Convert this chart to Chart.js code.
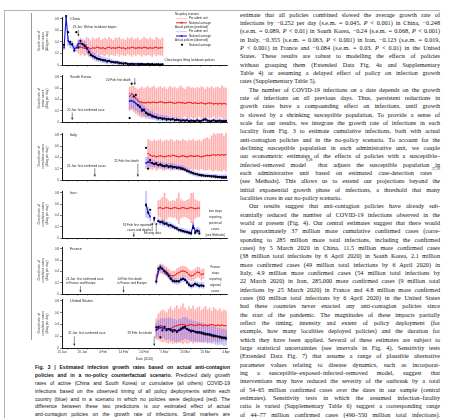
<!DOCTYPE html>
<html><head><meta charset="utf-8">
<script src="https://cdn.jsdelivr.net/npm/chart.js@4.4.1/dist/chart.umd.min.js"></script>
<style>
html,body{margin:0;padding:0;background:#fff;width:453px;height:418px;overflow:hidden;}
#page{position:relative;width:453px;height:418px;overflow:hidden;}
.rule{position:absolute;background:#b4b4b4;}
canvas.panel{position:absolute;}
.body{position:absolute;left:240px;top:10.8px;width:200px;font-family:"Liberation Serif",serif;font-size:6.2px;color:#111;}
.body div{height:8.33px;line-height:8.33px;white-space:nowrap;text-align:justify;text-align-last:justify;}
.body div.end{text-align-last:left;}
.body div.ind{text-indent:9px;}
.body sup,.cap sup{font-size:3.6px;vertical-align:top;line-height:0;position:relative;top:-0.5px;}
.cap{position:absolute;left:35px;top:364px;width:195px;font-family:"Liberation Sans",sans-serif;font-size:5.05px;color:#111;}
.cap div{height:7.9px;line-height:7.9px;white-space:nowrap;text-align:justify;text-align-last:justify;}
</style></head>
<body><div id="page">
<div class="rule" style="left:4px;top:10px;width:436px;height:1px;"></div>
<div class="rule" style="left:4px;top:10px;width:1px;height:408px;"></div>
<div class="rule" style="left:31px;top:13px;width:1px;height:327px;background:#9a9a9a;"></div>

<div class="body">
<div>estimate that all policies combined slowed the average growth rate of</div>
<div>infections by −0.252 per day (s.e.m. = 0.045, <i>P</i> &lt; 0.001) in China, −0.248</div>
<div>(s.e.m. = 0.089, <i>P</i> &lt; 0.01) in South Korea, −0.24 (s.e.m. = 0.068, <i>P</i> &lt; 0.001)</div>
<div>in Italy, −0.355 (s.e.m. = 0.063, <i>P</i> &lt; 0.001) in Iran, −0.123 (s.e.m. = 0.019,</div>
<div><i>P</i> &lt; 0.001) in France and −0.084 (s.e.m. = 0.03, <i>P</i> &lt; 0.01) in the United</div>
<div>States. These results are robust to modelling the effects of policies</div>
<div>without grouping them (Extended Data Fig. 4a and Supplementary</div>
<div>Table 4) or assuming a delayed effect of policy on infection growth</div>
<div class="end">rates (Supplementary Table 5).</div>
<div class="ind">The number of COVID-19 infections on a date depends on the growth</div>
<div>rate of infections on all previous days. Thus, persistent reductions in</div>
<div>growth rates have a compounding effect on infections, until growth</div>
<div>is slowed by a shrinking susceptible population. To provide a sense of</div>
<div>scale for our results, we integrate the growth rate of infections in each</div>
<div>locality from Fig. 3 to estimate cumulative infections, both with actual</div>
<div>anti-contagion policies and in the no-policy scenario. To account for the</div>
<div>declining susceptible population in each administrative unit, we couple</div>
<div>our econometric estimates of the effects of policies with a susceptible–</div>
<div>infected–removed model<sup>8,28</sup> that adjusts the susceptible population in</div>
<div>each administrative unit based on estimated case-detection rates<sup>27,29</sup></div>
<div>(see Methods). This allows us to extend our projections beyond the</div>
<div>initial exponential growth phase of infections, a threshold that many</div>
<div class="end">localities cross in our no-policy scenario.</div>
<div class="ind">Our results suggest that anti-contagion policies have already sub-</div>
<div>stantially reduced the number of COVID-19 infections observed in the</div>
<div>world at present (Fig. 4). Our central estimates suggest that there would</div>
<div>be approximately 37 million more cumulative confirmed cases (corre-</div>
<div>sponding to 285 million more total infections, including the confirmed</div>
<div>cases) by 5 March 2020 in China, 11.5 million more confirmed cases</div>
<div>(38 million total infections by 6 April 2020) in South Korea, 2.1 million</div>
<div>more confirmed cases (49 million total infections by 6 April 2020) in</div>
<div>Italy, 4.9 million more confirmed cases (54 million total infections by</div>
<div>22 March 2020) in Iran, 285,000 more confirmed cases (9 million total</div>
<div>infections by 25 March 2020) in France and 4.8 million more confirmed</div>
<div>cases (60 million total infections by 6 April 2020) in the United States</div>
<div>had these countries never enacted any anti-contagion policies since</div>
<div>the start of the pandemic. The magnitudes of these impacts partially</div>
<div>reflect the timing, intensity and extent of policy deployment (for</div>
<div>example, how many localities deployed policies) and the duration for</div>
<div>which they have been applied. Several of these estimates are subject to</div>
<div>large statistical uncertainties (see intervals in Fig. 4). Sensitivity tests</div>
<div>(Extended Data Fig. 7) that assume a range of plausible alternative</div>
<div>parameter values relating to disease dynamics, such as incorporat-</div>
<div>ing a susceptible–exposed–infected–removed model, suggest that</div>
<div>interventions may have reduced the severity of the outbreak by a total</div>
<div>of 54–65 million confirmed cases over the dates in our sample (central</div>
<div>estimates). Sensitivity tests in which the assumed infection–fatality</div>
<div>ratio is varied (Supplementary Table 6) suggest a corresponding range</div>
<div>of 44–77 million confirmed cases (490–550 million total infections).</div>
</div>

<div class="cap">
<div><b>Fig. 3 | Estimated infection growth rates based on actual anti-contagion</b></div>
<div><b>policies and in a no-policy counterfactual scenario.</b> Predicted daily growth</div>
<div>rates of active (China and South Korea) or cumulative (all others) COVID-19</div>
<div>infections based on the observed timing of all policy deployments within each</div>
<div>country (blue) and in a scenario in which no policies were deployed (red). The</div>
<div>difference between these two predictions is our estimated effect of actual</div>
<div>anti-contagion policies on the growth rate of infections. Small markers are</div>
</div>
</div>

<script>
// ---------------- DATA ----------------
const xTickDays = [15, 25, 35, 45, 55, 65, 75, 85, 95];
const xTickLabels = ['15 Jan', '25 Jan', '4 Feb', '14 Feb', '24 Feb', '5 Mar', '15 Mar', '25 Mar', '4 Apr'];
const xMinorTickDays = [20, 30, 40, 50, 60, 70, 80, 90];
const yTickValues = [0, 0.2, 0.4, 0.6, 0.8];
const yTickLabels = ['0', '0.2', '0.4', '0.6', '0.8'];
const countries = ['China', 'South Korea', 'Italy', 'Iran', 'France', 'United States'];
const yTitleActive = ['Growth rate of', 'active cases', '(\u0394log per day)'];
const yTitleCumulative = ['Growth rate of', 'cumulative cases', '(\u0394log per day)'];

// China: days 16..64
const chinaStart = 16;
const chinaActual = [0.30,0.83,0.42,0.36,0.35,0.28,0.30,0.37,0.38,0.36, 0.35,0.30,0.24,0.19,0.16,0.14,0.12,0.11,0.10,0.09, 0.08,0.07,0.07,0.06,0.05,0.05,0.04,0.04,0.03,0.03, 0.03,0.02,0.02,0.02,0.02,0.02,0.01,0.02,0.01,0.01, 0.01,0.01,0.01,0.02,0.01,0.01,0.01,0.01,0.01];
const chinaActualSpread = [0.03,0.05,0.08,0.06,0.06,0.06,0.06,0.05,0.05,0.05, 0.06,0.06,0.06,0.06,0.06,0.06,0.06,0.05,0.05,0.05, 0.05,0.05,0.04,0.04,0.04,0.03,0.03,0.03,0.03,0.03, 0.02,0.02,0.02,0.02,0.02,0.02,0.02,0.02,0.02,0.02, 0.02,0.02,0.02,0.02,0.02,0.02,0.02,0.02,0.02];
const chinaObserved = [0.35,0.85,0.57,0.40,0.36,0.25,0.57,0.30,0.42,0.36, 0.33,0.29,0.22,0.17,0.15,0.13,0.11,0.10,0.09,0.08, 0.08,0.06,0.07,0.05,0.05,0.04,0.05,0.03,0.03,0.02, 0.03,0.02,0.01,0.02,0.01,-0.08,0.02,0.01,0.02,0.01, 0.01,0.02,0.01,0.01,0.00,0.01,0.01,0.00,0.01];
const chinaNoPolicy = [null,null,null,null,null,null,null,0.33,0.31,0.30, 0.29,0.31,0.30,0.28,0.30,0.29,0.31,0.30,0.29,0.30, 0.28,0.30,0.31,0.29,0.30,0.29,0.30,0.31,0.29,0.30, 0.28,0.30,0.29,0.31,0.30,0.29,0.30,0.30,0.29,0.31, 0.30,0.29,0.30,0.29,0.30,0.31,0.29,0.30,0.30];
const chinaNoPolicyHigh = [null,null,null,null,null,null,null,0.44,0.47,0.45, 0.43,0.48,0.46,0.42,0.47,0.44,0.46,0.48,0.43,0.45, 0.47,0.44,0.48,0.45,0.43,0.47,0.46,0.48,0.44,0.45, 0.43,0.47,0.45,0.48,0.44,0.46,0.47,0.43,0.45,0.48, 0.46,0.44,0.47,0.45,0.43,0.48,0.46,0.44,0.47];
const chinaNoPolicyLow = [null,null,null,null,null,null,null,0.20,0.17,0.19, 0.16,0.18,0.15,0.19,0.17,0.16,0.20,0.15,0.18,0.17, 0.16,0.19,0.15,0.18,0.17,0.16,0.19,0.15,0.18,0.17, 0.16,0.19,0.17,0.15,0.18,0.16,0.19,0.17,0.15,0.18, 0.16,0.18,0.17,0.15,0.19,0.16,0.18,0.17,0.16];

// South Korea: days 48..95
const skStart = 48;
const skActual = [0.37,0.38,0.36,0.33,0.30,0.26,0.23,0.20,0.17,0.15, 0.13,0.12,0.10,0.09,0.08,0.07,0.07,0.06,0.06,0.05, 0.05,0.05,0.04,0.04,0.04,0.03,0.03,0.03,0.03,0.02, 0.03,0.02,0.02,0.03,0.02,0.02,0.03,0.04,0.03,0.02, 0.02,0.03,0.02,0.02,0.03,0.02,0.02,0.02];
const skActualSpread = [0.14,0.14,0.13,0.13,0.12,0.11,0.10,0.09,0.08,0.08, 0.07,0.07,0.06,0.06,0.06,0.05,0.05,0.05,0.05,0.04, 0.04,0.04,0.04,0.04,0.04,0.03,0.03,0.03,0.03,0.03, 0.03,0.03,0.03,0.03,0.03,0.03,0.03,0.04,0.03,0.03, 0.03,0.03,0.03,0.03,0.03,0.03,0.03,0.03];
const skObserved = [0.07,0.68,0.45,0.48,0.30,0.27,0.20,0.22,0.16,0.13, 0.13,0.10,0.09,0.08,0.06,0.07,0.05,0.06,0.04,0.05, 0.04,0.05,0.03,0.04,0.03,0.02,0.03,0.02,0.03,0.01, 0.02,0.02,0.01,0.03,0.01,0.02,0.04,0.05,0.02,0.01, 0.02,0.03,0.01,0.02,0.02,0.01,0.01,0.02];
const skNoPolicy = [0.45,0.50,0.47,0.42,0.38,0.36,0.35,0.34,0.34,0.35, 0.34,0.35,0.35,0.34,0.35,0.36,0.35,0.34,0.34,0.35, 0.35,0.34,0.33,0.34,0.35,0.34,0.34,0.33,0.34,0.35, 0.34,0.33,0.34,0.33,0.33,0.34,0.33,0.32,0.33,0.34, 0.33,0.32,0.33,0.32,0.33,0.32,0.33,0.32];
const skNoPolicyHigh = [0.62,0.64,0.63,0.60,0.58,0.60,0.62,0.59,0.61,0.63, 0.60,0.62,0.64,0.59,0.61,0.63,0.60,0.62,0.58,0.61, 0.63,0.60,0.62,0.59,0.61,0.64,0.60,0.58,0.62,0.63, 0.60,0.61,0.59,0.62,0.60,0.63,0.61,0.58,0.62,0.60, 0.63,0.59,0.61,0.62,0.60,0.64,0.61,0.60];
const skNoPolicyLow = [0.20,0.22,0.18,0.15,0.12,0.10,0.08,0.09,0.07,0.10, 0.08,0.06,0.09,0.07,0.10,0.08,0.06,0.09,0.07,0.08, 0.10,0.06,0.08,0.07,0.09,0.06,0.08,0.10,0.07,0.06, 0.09,0.07,0.08,0.06,0.10,0.07,0.08,0.06,0.09,0.07, 0.08,0.10,0.06,0.07,0.09,0.08,0.06,0.07];

// Italy: days 56..95
const italyStart = 56;
const italyActual = [0.30,0.32,0.31,0.30,0.29,0.28,0.27,0.28,0.26,0.25, 0.25,0.24,0.25,0.24,0.23,0.23,0.22,0.22,0.21,0.19, 0.17,0.15,0.14,0.12,0.11,0.10,0.09,0.09,0.08,0.08, 0.08,0.07,0.07,0.07,0.07,0.06,0.06,0.06,0.06,0.06];
const italyActualSpread = [0.10,0.08,0.07,0.06,0.06,0.05,0.05,0.05,0.05,0.05, 0.05,0.05,0.05,0.05,0.05,0.04,0.04,0.04,0.04,0.04, 0.04,0.04,0.04,0.04,0.04,0.04,0.04,0.03,0.03,0.03, 0.03,0.03,0.03,0.03,0.03,0.03,0.03,0.03,0.03,0.03];
const italyObserved = [0.57,0.20,0.35,0.30,0.28,0.30,0.26,0.27,0.25,0.24, 0.26,0.23,0.24,0.22,0.23,0.21,0.22,0.20,0.19,0.18, 0.16,0.15,0.13,0.12,0.11,0.10,0.09,0.08,0.08,0.07, 0.07,0.07,0.06,0.06,0.05,0.05,0.05,0.04,0.04,0.04];
const italyNoPolicy = [null,0.47,0.44,0.42,0.43,0.41,0.42,0.43,0.42,0.41, 0.42,0.43,0.42,0.44,0.43,0.42,0.41,0.42,0.43,0.42, 0.41,0.42,0.43,0.42,0.42,0.43,0.42,0.41,0.42,0.43, 0.44,0.43,0.44,0.45,0.44,0.45,0.44,0.45,0.44,0.45];
const italyNoPolicyHigh = [null,0.72,0.70,0.68,0.71,0.69,0.70,0.72,0.68,0.70, 0.71,0.69,0.72,0.70,0.68,0.71,0.70,0.69,0.72,0.70, 0.68,0.71,0.70,0.72,0.69,0.70,0.71,0.68,0.72,0.74, 0.75,0.72,0.78,0.90,0.80,0.92,0.82,0.93,0.78,0.88];
const italyNoPolicyLow = [null,0.22,0.20,0.18,0.21,0.17,0.19,0.20,0.18,0.17, 0.19,0.20,0.17,0.18,0.21,0.19,0.17,0.18,0.20,0.17, 0.19,0.18,0.20,0.17,0.19,0.18,0.17,0.20,0.18,0.17, 0.18,0.19,0.17,0.16,0.18,0.16,0.17,0.15,0.18,0.16];

// Iran: days 56..82
const iranStart = 56;
const iranActual = [0.60,0.45,0.38,null,0.32,null,0.30,0.28,0.27,0.26, 0.25,0.23,0.22,0.21,0.19,0.17,0.15,0.14,0.13,0.12, 0.11,0.10,0.09,0.22,0.12,0.14,0.12];
const iranActualSpread = [0.23,0.10,0.08,null,0.06,null,0.05,0.05,0.05,0.05, 0.05,0.05,0.05,0.04,0.04,0.04,0.04,0.04,0.04,0.04, 0.04,0.04,0.04,0.06,0.05,0.05,0.05];
const iranObserved = [0.58,0.45,0.50,null,0.35,null,0.30,0.28,0.29,0.25, 0.26,0.22,0.23,0.20,0.18,0.17,0.14,0.13,0.12,0.11, 0.10,0.09,0.08,0.18,0.09,0.12,0.08];
const iranNoPolicy = [null,null,null,null,null,null,0.53,0.54,0.52,0.53, 0.54,0.53,0.52,0.53,0.54,0.53,0.52,0.53,0.54,0.53, 0.52,0.53,0.54,0.53,0.52,0.53,0.53];
const iranNoPolicyHigh = [null,null,null,null,null,null,0.66,0.68,0.72,0.80, 0.70,0.66,0.65,0.67,0.65,0.70,0.80,0.68,0.66,0.65, 0.67,0.69,0.79,0.80,0.68,0.66,0.65];
const iranNoPolicyLow = [null,null,null,null,null,null,0.38,0.36,0.32,0.25, 0.33,0.37,0.38,0.36,0.37,0.33,0.25,0.35,0.37,0.38, 0.36,0.34,0.27,0.25,0.35,0.37,0.38];

// France: days 61..84
const franceStart = 61;
const franceActual = [0.22,0.40,0.47,0.44,0.40,0.38,0.33,0.28,0.24,0.23, 0.22,0.23,0.25,0.27,0.26,0.22,0.17,0.15,0.16,0.18, 0.17,0.15,0.16,0.15];
const franceActualSpread = [0.05,0.06,0.06,0.06,0.05,0.05,0.05,0.05,0.05,0.05, 0.05,0.05,0.05,0.05,0.05,0.05,0.05,0.05,0.05,0.05, 0.05,0.05,0.05,0.05];
const franceObserved = [0.22,0.45,0.48,0.45,0.40,0.36,0.32,0.27,0.23,0.22, 0.23,0.22,0.26,0.27,0.25,0.20,0.16,0.14,0.15,0.18, 0.16,0.14,0.15,0.14];
const franceNoPolicy = [0.30,0.42,0.45,0.44,0.42,0.40,0.36,0.33,0.32,0.33, 0.36,0.38,0.40,0.41,0.40,0.38,0.34,0.32,0.33,0.36, 0.39,0.38,0.34,0.36];
const franceNoPolicyHigh = [0.36,0.50,0.53,0.52,0.50,0.48,0.44,0.41,0.40,0.41, 0.45,0.47,0.49,0.50,0.49,0.47,0.43,0.41,0.42,0.45, 0.48,0.47,0.43,0.45];
const franceNoPolicyLow = [0.24,0.34,0.37,0.36,0.34,0.32,0.28,0.25,0.24,0.25, 0.27,0.29,0.31,0.32,0.31,0.29,0.25,0.23,0.24,0.27, 0.30,0.29,0.25,0.27];

// United States: days 61..95
const usStart = 61;
const usActual = [0.30,0.33,0.35,0.34,0.33,0.32,0.33,0.32,0.31,0.30, 0.29,0.30,0.31,0.33,0.34,0.33,0.31,0.30,0.29,0.28, 0.28,0.27,0.27,0.26,0.25,0.24,0.24,0.23,0.22,0.21, 0.20,0.20,0.19,0.18,0.18];
const usActualSpread = [0.12,0.14,0.15,0.16,0.17,0.18,0.18,0.19,0.18,0.19, 0.18,0.19,0.18,0.19,0.18,0.18,0.17,0.18,0.17,0.17, 0.16,0.17,0.16,0.16,0.15,0.16,0.15,0.15,0.14,0.15, 0.14,0.14,0.13,0.14,0.13];
const usObserved = [0.35,0.36,0.18,0.30,0.36,0.30,0.32,0.30,0.28,0.30, 0.27,0.30,0.33,0.35,0.36,0.32,0.30,0.28,0.29,0.27, 0.26,0.26,0.25,0.24,0.23,0.23,0.22,0.21,0.20,0.20, 0.19,0.18,0.17,0.17,0.16];
const usNoPolicy = [0.32,0.36,0.38,0.37,0.35,0.33,0.32,0.33,0.35,0.37, 0.38,0.39,0.40,0.40,0.39,0.38,0.39,0.40,0.39,0.38, 0.39,0.40,0.39,0.38,0.39,0.38,0.39,0.40,0.39,0.38, 0.39,0.38,0.39,0.38,0.38];
const usNoPolicyHigh = [0.50,0.58,0.62,0.65,0.63,0.60,0.66,0.70,0.64,0.68, 0.72,0.66,0.70,0.75,0.68,0.64,0.70,0.66,0.72,0.65, 0.68,0.70,0.64,0.67,0.71,0.65,0.68,0.63,0.69,0.66, 0.64,0.67,0.62,0.65,0.63];
const usNoPolicyLow = [0.15,0.14,0.12,0.10,0.11,0.09,0.08,0.10,0.07,0.09, 0.08,0.10,0.09,0.07,0.10,0.08,0.09,0.11,0.08,0.10, 0.09,0.11,0.10,0.09,0.12,0.10,0.11,0.10,0.12,0.11, 0.10,0.12,0.11,0.13,0.12];

// Event annotations (date as day-of-year, value position)
const chinaNotes = [
  {day: 20.3, v: 0.66, lines: ['23 Jan: Wuhan lockdown begins'], arrow: [23, 0.61, 0.50]},
  {day: 65, v: 0.08, lines: ['China begins lifting lockdown policies']}
];
const skNotes = [
  {day: 48.5, v: 0.74, align: 'right', lines: ['20 Feb: first death'], arrow: [50.5, 0.78, 0.66]},
  {day: 17.5, v: 0.21, lines: ['20 Jan: first confirmed case'], arrow: [20, 0.17, 0.04]}
];
const italyNotes = [
  {day: 17.5, v: 0.25, lines: ['31 Jan: first confirmed cases'], arrow: [31, 0.21, 0.06]},
  {day: 40.5, v: 0.33, lines: ['21 Feb: first death'], arrow: [52, 0.29, 0.06]}
];
const iranNotes = [
  {day: 58.5, v: 0.22, align: 'right', lines: ['19 Feb: first reported', 'cases and deaths'], arrow: [50, 0.11, 0.02]},
  {day: 55, v: 0.08, lines: ['Missing data'], arrow: [59, 0.12, 0.27]},
  {day: 55, v: 0.08, lines: [], arrow: [61, 0.12, 0.27]},
  {day: 89.8, v: 0.47, align: 'center', lines: ['Iran stops', 'reporting', 'provincial', 'cases', '(see Methods)']}
];
const franceNotes = [
  {day: 17, v: 0.27, lines: ['24 Jan: first confirmed case', 'in France and Europe'], arrow: [24, 0.14, 0.03]},
  {day: 42, v: 0.27, lines: ['14 Feb: first death', 'in France and Europe'], arrow: [45, 0.14, 0.03]},
  {day: 89.8, v: 0.47, align: 'center', lines: ['France', 'stops', 'reporting', 'regional', 'cases']}
];
const usNotes = [
  {day: 18, v: 0.25, lines: ['21 Jan: first confirmed case'], arrow: [21, 0.20, 0.04]},
  {day: 47, v: 0.25, lines: ['29 Feb: first death'], arrow: [60, 0.20, 0.04]}
];

const legendRows = [
  {kind: 'head', text: 'No-policy scenario'},
  {kind: 'redThin', text: 'Per admin unit'},
  {kind: 'redAvg', text: 'National average'},
  {kind: 'head', text: 'Actual policies (predicted)'},
  {kind: 'blueThin', text: 'Per admin unit'},
  {kind: 'blueAvg', text: 'National average'},
  {kind: 'head', text: 'Actual policies (observed)'},
  {kind: 'dot', text: 'National average'}
];

// ---------------- STYLE / LAYOUT ----------------
const RED = '#f02020', RED_BAND = 'rgba(255,70,70,0.42)';
const BLUE = '#1414d8', BLUE_BAND = 'rgba(95,95,255,0.40)';
const FONT = '"Liberation Sans", Arial, sans-serif';

const panels = [
  {name: countries[0], start: chinaStart, act: chinaActual, sp: chinaActualSpread, obs: chinaObserved, np: chinaNoPolicy, hi: chinaNoPolicyHigh, lo: chinaNoPolicyLow, notes: chinaNotes, title: yTitleActive, axisY: 67, padTop: 7, legend: true},
  {name: countries[1], start: skStart, act: skActual, sp: skActualSpread, obs: skObserved, np: skNoPolicy, hi: skNoPolicyHigh, lo: skNoPolicyLow, notes: skNotes, title: yTitleActive, axisY: 124, padTop: 3},
  {name: countries[2], start: italyStart, act: italyActual, sp: italyActualSpread, obs: italyObserved, np: italyNoPolicy, hi: italyNoPolicyHigh, lo: italyNoPolicyLow, notes: italyNotes, title: yTitleCumulative, axisY: 182, padTop: 3},
  {name: countries[3], start: iranStart, act: iranActual, sp: iranActualSpread, obs: iranObserved, np: iranNoPolicy, hi: iranNoPolicyHigh, lo: iranNoPolicyLow, notes: iranNotes, title: yTitleCumulative, axisY: 240, padTop: 3},
  {name: countries[4], start: franceStart, act: franceActual, sp: franceActualSpread, obs: franceObserved, np: franceNoPolicy, hi: franceNoPolicyHigh, lo: franceNoPolicyLow, notes: franceNotes, title: yTitleCumulative, axisY: 296, padTop: 3},
  {name: countries[5], start: usStart, act: usActual, sp: usActualSpread, obs: usObserved, np: usNoPolicy, hi: usNoPolicyHigh, lo: usNoPolicyLow, notes: usNotes, title: yTitleCumulative, axisY: 348, padTop: 3, bottom: true}
];

function pts(start, vals) { return vals.map((v, i) => ({x: start + i, y: v})); }
function bars(start, lo, hi) {
  const out = [];
  lo.forEach((l, i) => { if (l !== null && hi[i] !== null) out.push({x: start + i, y: [Math.max(0, l), hi[i]]}); });
  return out;
}
function spreadBars(start, vals, sp) {
  const out = [];
  vals.forEach((v, i) => { if (v !== null && sp[i] !== null) out.push({x: start + i, y: [Math.max(0, v - sp[i]), v + sp[i]]}); });
  return out;
}

function arrow(ctx, x, y1, y2) {
  ctx.beginPath(); ctx.moveTo(x, y1); ctx.lineTo(x, y2); ctx.lineWidth = 0.5; ctx.stroke();
  const d = y2 > y1 ? 1 : -1;
  ctx.beginPath(); ctx.moveTo(x - 1.1, y2 - d * 2); ctx.lineTo(x + 1.1, y2 - d * 2); ctx.lineTo(x, y2); ctx.closePath(); ctx.fill();
}

function notesPlugin(p) {
  return {
    id: 'notes',
    afterDatasetsDraw(chart) {
      const {ctx, chartArea: a, scales: {x, y}} = chart;
      ctx.save();
      ctx.fillStyle = '#222'; ctx.strokeStyle = '#222';
      ctx.textBaseline = 'middle';
      ctx.font = '3.8px ' + FONT; ctx.textAlign = 'left';
      ctx.fillText(p.name, a.left + 8, a.top + 1.5);
      ctx.font = '3.05px ' + FONT;
      p.notes.forEach(n => {
        const px = x.getPixelForValue(n.day), py = y.getPixelForValue(n.v);
        ctx.textAlign = n.align || 'left';
        n.lines.forEach((t, i) => ctx.fillText(t, px, py + i * 6 * (n.align === 'center' ? 1 : 0.72)));
        if (n.arrow) arrow(ctx, x.getPixelForValue(n.arrow[0]), y.getPixelForValue(n.arrow[1]), y.getPixelForValue(n.arrow[2]));
      });
      if (p.legend) {
        const lx = a.right - 52, ly = a.top - 3;
        legendRows.forEach((r, i) => {
          const yy = ly + i * 4.4;
          ctx.textAlign = 'left'; ctx.fillStyle = '#222';
          ctx.font = '2.9px ' + FONT;
          if (r.kind === 'head') { ctx.fillText(r.text, lx, yy); return; }
          ctx.fillText(r.text, lx + 14, yy);
          const isRed = r.kind.startsWith('red');
          if (r.kind === 'dot') {
            ctx.fillStyle = '#000'; ctx.beginPath(); ctx.arc(lx + 7, yy, 1.1, 0, Math.PI * 2); ctx.fill();
          } else {
            ctx.strokeStyle = isRed ? (r.kind === 'redThin' ? 'rgba(255,80,80,0.7)' : RED) : (r.kind === 'blueThin' ? 'rgba(110,110,255,0.7)' : BLUE);
            ctx.lineWidth = r.kind.endsWith('Thin') ? 0.5 : 1;
            ctx.beginPath(); ctx.moveTo(lx + 1, yy); ctx.lineTo(lx + 12, yy); ctx.stroke();
            if (r.kind.endsWith('Avg')) { ctx.fillStyle = isRed ? RED : BLUE; ctx.beginPath(); ctx.arc(lx + 6.5, yy, 1, 0, Math.PI * 2); ctx.fill(); }
          }
        });
      }
      ctx.restore();
    }
  };
}

const page = document.getElementById('page');
panels.forEach(p => {
  const xH = p.bottom ? 13 : 2;
  const H = p.padTop + 50 + xH;
  const cv = document.createElement('canvas');
  cv.className = 'panel';
  cv.width = 198; cv.height = H;
  cv.style.left = '34px'; cv.style.top = (p.axisY - 50 - p.padTop) + 'px';
  cv.style.width = '198px'; cv.style.height = H + 'px';
  page.appendChild(cv);

  new Chart(cv, {
    type: 'line',
    data: {
      datasets: [
        {type: 'line', data: pts(p.start, p.obs), showLine: false, pointRadius: 1.15, pointBackgroundColor: '#000', pointBorderWidth: 0, clip: false},
        {type: 'line', data: pts(p.start, p.act), borderColor: BLUE, borderWidth: 1.1, pointRadius: 0.85, pointBackgroundColor: BLUE, pointBorderWidth: 0, tension: 0, spanGaps: false},
        {type: 'line', data: pts(p.start, p.np), borderColor: RED, borderWidth: 0.9, pointRadius: 0.7, pointBackgroundColor: RED, pointBorderWidth: 0, tension: 0, spanGaps: false},
        {type: 'bar', data: spreadBars(p.start, p.act, p.sp), backgroundColor: BLUE_BAND, barThickness: 1, grouped: false, borderWidth: 0},
        {type: 'bar', data: bars(p.start, p.lo, p.hi), backgroundColor: RED_BAND, barThickness: 1, grouped: false, borderWidth: 0}
      ]
    },
    options: {
      responsive: false, animation: false, devicePixelRatio: 1, events: [],
      layout: {padding: {left: 0, right: 5, top: p.padTop, bottom: 0}},
      plugins: {legend: {display: false}, tooltip: {enabled: false}},
      scales: {
        x: {
          type: 'linear', min: 15, max: 95.5, offset: false,
          afterBuildTicks(s) { s.ticks = xTickDays.concat(xMinorTickDays).sort((a, b) => a - b).map(v => ({value: v})); },
          afterFit(s) { s.height = xH; s.paddingLeft = 0; s.paddingRight = 0; },
          grid: {display: true, drawOnChartArea: false, drawTicks: true, tickLength: 1.5, color: '#000', lineWidth: 0.5},
          border: {display: true, color: '#000', width: 0.9},
          ticks: {
            display: !!p.bottom, autoSkip: false, maxRotation: 0, padding: 1,
            font: {size: 3.1, family: FONT}, color: '#333',
            callback(v) { const i = xTickDays.indexOf(v); return i >= 0 ? xTickLabels[i] : ''; }
          },
          title: {display: !!p.bottom, text: 'Date (2020)', font: {size: 3.3, family: FONT}, color: '#333', padding: {top: 1, bottom: 0}}
        },
        y: {
          type: 'linear', min: 0, max: 0.8333,
          afterBuildTicks(s) { s.ticks = yTickValues.map(v => ({value: v})); },
          afterFit(s) { s.width = 28; s.paddingTop = 0; s.paddingBottom = 0; },
          grid: {display: true, drawOnChartArea: false, drawTicks: true, tickLength: 2, color: '#000', lineWidth: 0.5},
          border: {display: true, color: '#000', width: 0.9},
          ticks: {padding: 1, font: {size: 3.1, family: FONT}, color: '#333',
            callback(v) { const i = yTickValues.indexOf(v); return i >= 0 ? yTickLabels[i] : ''; }},
          title: {display: true, text: p.title, font: {size: 3.2, family: FONT, lineHeight: 1.25}, color: '#333', padding: {top: 3, bottom: 0}}
        }
      }
    },
    plugins: [notesPlugin(p)]
  });
});
</script>
</body></html>
